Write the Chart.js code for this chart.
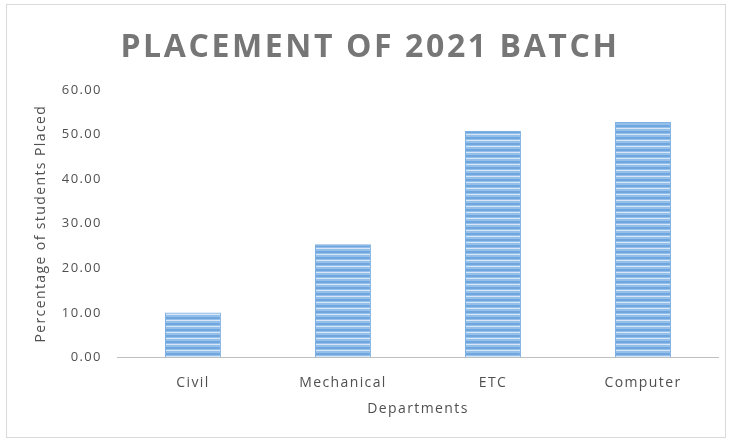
<!DOCTYPE html>
<html>
<head>
<meta charset="utf-8">
<script src="https://cdn.jsdelivr.net/npm/chart.js@4"></script>
<style>
  html, body { margin: 0; padding: 0; background: #fff; }
  .wrap { position: absolute; left: 6px; top: 4px; width: 720px; height: 434px; border: 1px solid #d9d9d9; box-sizing: border-box; }
  canvas { display: block; }
</style>
</head>
<body>
<div class="wrap"><canvas id="chart"></canvas></div>
<script>
const departments = ['Civil', 'Mechanical', 'ETC', 'Computer'];
const placedPct = [10.1, 25.4, 50.8, 52.8];
const chartTitle = 'PLACEMENT OF 2021 BATCH';

function stripes(ctx) {
  const c = document.createElement('canvas');
  c.width = 8; c.height = 6;
  const p = c.getContext('2d');
  p.fillStyle = '#93bfea';
  p.fillRect(0, 0, 8, 6);
  p.fillStyle = '#6fa6dd';
  p.fillRect(0, 0, 8, 2);
  p.fillStyle = '#d6e7f7';
  p.fillRect(0, 3, 8, 1);
  return ctx.createPattern(c, 'repeat');
}

// spaced-out text like the original
const spacing = {
  id: 'spacing',
  beforeLayout(chart) { chart.ctx.letterSpacing = '1.4px'; },
  beforeDraw(chart) { chart.ctx.letterSpacing = '1.4px'; },
  afterDraw(chart) {
    const c = chart.ctx;
    c.save();
    c.letterSpacing = '2.6px';
    c.font = 'bold 32px "Open Sans"';
    c.fillStyle = '#767676';
    c.textAlign = 'center';
    c.textBaseline = 'middle';
    c.fillText(chartTitle, chart.width / 2 + 4, 43);
    c.restore();
  }
};

const canvas = document.getElementById('chart');
const ctx = canvas.getContext('2d');
const font = { family: 'Open Sans', size: 14 };

new Chart(canvas, {
  type: 'bar',
  data: {
    labels: departments,
    datasets: [{
      label: 'Placed',
      data: placedPct,
      backgroundColor: stripes(ctx),
      borderColor: '#7fb0e2',
      borderWidth: 1,
      barPercentage: 0.373,
      categoryPercentage: 1
    }]
  },
  plugins: [spacing],
  options: {
    responsive: true,
    maintainAspectRatio: false,
    animation: false,
    layout: { padding: { left: 26, right: 7, top: 85, bottom: 16 } },
    plugins: {
      legend: { display: false },
      tooltip: { enabled: false },
      title: { display: false }
    },
    scales: {
      x: {
        grid: { display: false, drawTicks: false },
        border: { color: '#bfbfbf', width: 1 },
        ticks: { color: '#505050', font, padding: 17 },
        title: { display: true, text: 'Departments', color: '#505050', font, padding: { top: -8, bottom: 4 } }
      },
      y: {
        min: 0, max: 60,
        grid: { display: false, drawTicks: false },
        border: { display: false },
        ticks: {
          stepSize: 10,
          color: '#505050',
          font: { family: 'Open Sans', size: 13 },
          padding: 16,
          callback: v => v.toFixed(2)
        },
        title: { display: true, text: 'Percentage of students Placed', color: '#505050', font, padding: { top: 0, bottom: -4 } }
      }
    }
  }
});
</script>
</body>
</html>
